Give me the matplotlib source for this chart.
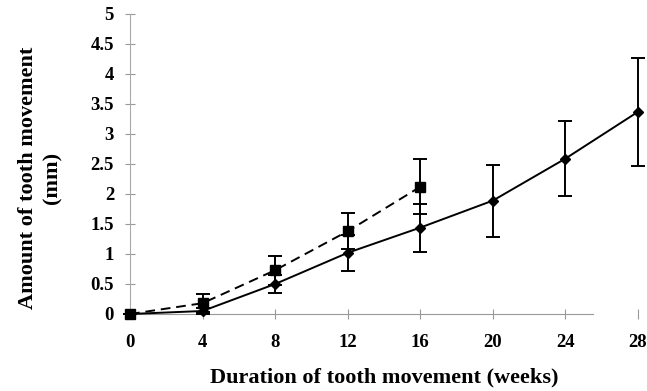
import matplotlib.pyplot as plt

# weeks of tooth movement
weeks = [0, 4, 8, 12, 16, 20, 24, 28]
weeks_sq = [0, 4, 8, 12, 16]

# solid line (diamonds)
move_d = [0.0, 0.05, 0.50, 1.02, 1.44, 1.89, 2.59, 3.37]
err_d = [0.0, 0.05, 0.15, 0.30, 0.40, 0.60, 0.62, 0.90]

# dashed line (squares)
move_s = [0.0, 0.18, 0.73, 1.38, 2.12]
err_s = [0.0, 0.15, 0.24, 0.30, 0.46]

yticks = [0, 0.5, 1, 1.5, 2, 2.5, 3, 3.5, 4, 4.5, 5]
xticks = [0, 4, 8, 12, 16, 20, 24, 28]

plt.rcParams['font.family'] = 'Liberation Serif'
plt.rcParams['font.weight'] = 'bold'

fig = plt.figure(figsize=(6.47, 3.91), dpi=100)
ax = fig.add_axes([130 / 647, 1 - 314 / 391, (638 - 130) / 647, 300 / 391])

ax.errorbar(weeks, move_d, yerr=err_d, color='black', marker='D', markersize=5,
            linewidth=1.4, elinewidth=1.4, capsize=5, capthick=1.4, zorder=3)
ax.errorbar(weeks_sq, move_s, yerr=err_s, color='black', marker='s', markersize=7,
            linewidth=1.4, linestyle=(0, (5, 3)), elinewidth=1.4, capsize=5,
            capthick=1.4, zorder=3)

ax.set_xlim(0, 28)
ax.set_ylim(0, 5)
ax.set_xticks(xticks)
ax.set_yticks(yticks)
ax.set_yticklabels([('%g' % v) for v in yticks])

for s in ['top', 'right']:
    ax.spines[s].set_visible(False)
ax.spines['left'].set_color('#aaaaaa')
ax.spines['bottom'].set_color('#999999')
ax.spines['left'].set_linewidth(0.8)
ax.spines['bottom'].set_linewidth(0.8)
ax.spines['bottom'].set_bounds(0, 25.5)
ax.tick_params(direction='inout', length=7, width=0.8, color='#999999',
               labelsize=13.5, pad=8)
ax.tick_params(axis='x', pad=11)
for lbl in ax.get_xticklabels() + ax.get_yticklabels():
    lbl.set_fontweight('bold')
for art in ax.get_children():
    try:
        art.set_clip_on(False)
    except Exception:
        pass

ax.set_xlabel('Duration of tooth movement (weeks)', fontsize=16, fontweight='bold')
ax.xaxis.set_label_coords(0.5, -0.177)
ax.set_ylabel('Amount of tooth movement\n(mm)', fontsize=16, fontweight='bold',
              linespacing=1.3)
ax.yaxis.set_label_coords(-0.132, 0.453)

fig.savefig('out.png', dpi=100)
